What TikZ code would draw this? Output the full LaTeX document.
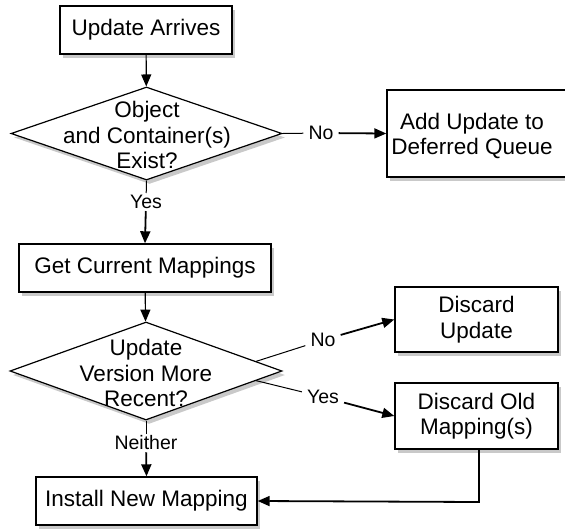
\documentclass[tikz,border=0pt]{standalone}
\usepackage{fontspec}
\setmainfont{Liberation Sans}
\usetikzlibrary{shapes.geometric,shadows,arrows.meta}
\begin{document}
\begin{tikzpicture}[x=1pt,y=-1pt,
  box/.style={draw=black,line width=1.4pt,fill=white,inner sep=0pt,align=center,
    font=\fontsize{22.5}{25.5}\selectfont,
    drop shadow={shadow xshift=3pt,shadow yshift=-4pt,opacity=0.3,fill=black!70}},
  dec/.style={draw=black,line width=1.2pt,fill=white,diamond,inner sep=0pt,
    drop shadow={shadow xshift=3pt,shadow yshift=-4pt,opacity=0.3,fill=black!70}},
  dtext/.style={align=center,font=\fontsize{22.5}{25.5}\selectfont,inner sep=0pt},
  lbl/.style={font=\fontsize{19.5}{21}\selectfont,inner sep=5pt},
  thinline/.style={line width=1pt},
  arr/.style={line width=1.8pt,-{Triangle[length=12pt,width=10pt]}},
  arrthin/.style={line width=1.2pt,-{Triangle[length=12pt,width=10pt]}}]
\useasboundingbox (0,0) rectangle (565,531);
\begin{scope}
\clip (0,0) rectangle (565,531);
% boxes
\node[box,minimum width=172pt,minimum height=48pt] (ua) at (146,30) {Update Arrives};
\node[dec,minimum width=271pt,minimum height=93pt] (d1) at (146.5,133.5) {};
\node[dtext] (t1) at (147,135) {Object\\and Container(s)\\Exist?};
\node[box,minimum width=180pt,minimum height=87pt] (aq) at (477,133.5) {};
\node[dtext] (t2) at (472,136) {Add Update to\\Deferred Queue};
\node[box,minimum width=252pt,minimum height=48pt] (gm) at (145,268) {Get Current Mappings};
\node[dec,minimum width=272pt,minimum height=98pt] (d2) at (146,371) {};
\node[dtext] (t3) at (146,373) {Update\\Version More\\Recent?};
\node[box,minimum width=163pt,minimum height=65pt] (du) at (476.5,319.5) {Discard\\Update};
\node[box,minimum width=163pt,minimum height=66pt] (dm) at (476.5,416) {Discard Old\\Mapping(s)};
\node[box,minimum width=221pt,minimum height=48pt] (im) at (146.5,501) {Install New Mapping};
% labels
\node[lbl] (lno1) at (321,133) {No};
\node[lbl,inner sep=2pt] (lyes1) at (146,202) {Yes};
\node[lbl] (lno2) at (323,340) {No};
\node[lbl] (lyes2) at (323,397) {Yes};
\node[lbl,inner sep=2pt] (lnei) at (146,443) {Neither};
% connectors
\draw[arrthin] (ua) -- (d1);
\draw[thinline] (d1.east) -- (lno1);
\draw[arr] (lno1) -- (aq.west);
\draw[thinline] (d1.south) -- (lyes1);
\draw[arr] (lyes1) -- (gm.north);
\draw[arrthin] (gm) -- (d2);
\draw[thinline] (d2.5) -- (lno2);
\draw[arr] (lno2) -- (du.west);
\draw[thinline] (d2.-5) -- (lyes2);
\draw[arr] (lyes2) -- (dm.west);
\draw[thinline] (d2.south) -- (lnei);
\draw[arr] (lnei) -- (im.north);
\coordinate (bend) at (479,502);
\draw[arr] (dm.south -| bend) -- (bend) -- (im.east);
\end{scope}
\end{tikzpicture}
\end{document}
